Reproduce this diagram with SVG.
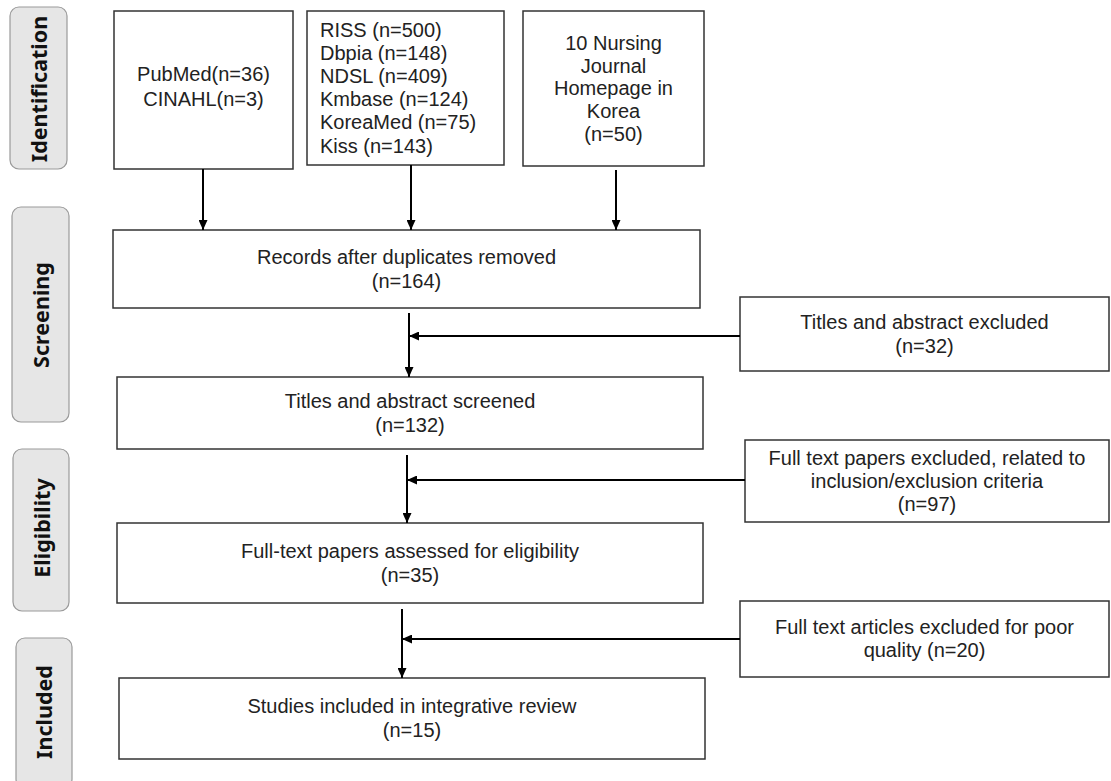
<svg xmlns="http://www.w3.org/2000/svg" width="1111" height="781" viewBox="0 0 1111 781">
<defs>
<marker id="ah" viewBox="0 0 10 9" refX="10" refY="4.5" markerWidth="10" markerHeight="9" markerUnits="userSpaceOnUse" orient="auto">
<path d="M0,0 L10,4.5 L0,9 z" fill="#000"/>
</marker>
<style>
.phase rect{fill:#e6e6e6;stroke:#9a9a9a;stroke-width:1.2}
.phase text{font-family:"Noto Sans","Open Sans","DejaVu Sans",sans-serif;font-weight:bold;font-size:21.5px;fill:#111;text-anchor:middle}
.box rect{fill:#fff;stroke:#333;stroke-width:1.5}
.box text{font-family:"Liberation Sans",Arial,sans-serif;font-size:20px;fill:#222;text-anchor:middle}
.box text.left{text-anchor:start}
.conn line{stroke:#000;stroke-width:2;marker-end:url(#ah)}
</style>
</defs>
<rect width="1111" height="781" fill="#fff"/>

<g id="phase-identification" class="phase">
<rect x="10" y="7" width="57" height="162" rx="9"/>
<text transform="translate(39,89) rotate(-90)" dy="0.36em">Identification</text>
</g>
<g id="phase-screening" class="phase">
<rect x="12" y="207" width="57" height="215" rx="9"/>
<text transform="translate(41,315) rotate(-90)" dy="0.36em">Screening</text>
</g>
<g id="phase-eligibility" class="phase">
<rect x="13" y="449" width="56" height="162" rx="9"/>
<text transform="translate(42,528) rotate(-90)" dy="0.36em">Eligibility</text>
</g>
<g id="phase-included" class="phase">
<rect x="16" y="638" width="56" height="150" rx="9"/>
<text transform="translate(44,712) rotate(-90)" dy="0.36em">Included</text>
</g>

<g id="box-pubmed" class="box">
<rect x="114" y="11" width="179" height="158"/>
<text x="203.5" y="81">PubMed(n=36)</text>
<text x="203.5" y="106">CINAHL(n=3)</text>
</g>
<g id="box-riss" class="box">
<rect x="307" y="11" width="197" height="154"/>
<text class="left" x="320" y="37">RISS (n=500)</text>
<text class="left" x="320" y="60">Dbpia (n=148)</text>
<text class="left" x="320" y="83">NDSL (n=409)</text>
<text class="left" x="320" y="106">Kmbase (n=124)</text>
<text class="left" x="320" y="129">KoreaMed (n=75)</text>
<text class="left" x="320" y="153">Kiss (n=143)</text>
</g>
<g id="box-nursing" class="box">
<rect x="523" y="11" width="181" height="155"/>
<text x="613.5" y="50">10 Nursing</text>
<text x="613.5" y="73">Journal</text>
<text x="613.5" y="95">Homepage in</text>
<text x="613.5" y="118">Korea</text>
<text x="613.5" y="141">(n=50)</text>
</g>
<g id="box-records" class="box">
<rect x="113" y="230" width="587" height="78"/>
<text x="406.5" y="264">Records after duplicates removed</text>
<text x="406.5" y="288">(n=164)</text>
</g>
<g id="box-titles-screened" class="box">
<rect x="117" y="377" width="586" height="72"/>
<text x="410" y="408">Titles and abstract screened</text>
<text x="410" y="432">(n=132)</text>
</g>
<g id="box-titles-excluded" class="box">
<rect x="740" y="297" width="369" height="74"/>
<text x="924.5" y="329">Titles and abstract excluded</text>
<text x="924.5" y="353">(n=32)</text>
</g>
<g id="box-fulltext-excluded" class="box">
<rect x="745" y="440" width="364" height="82"/>
<text x="927" y="465">Full text papers excluded, related to</text>
<text x="927" y="488">inclusion/exclusion criteria</text>
<text x="927" y="511">(n=97)</text>
</g>
<g id="box-fulltext-assessed" class="box">
<rect x="117" y="523" width="586" height="80"/>
<text x="410" y="558">Full-text papers assessed for eligibility</text>
<text x="410" y="582">(n=35)</text>
</g>
<g id="box-poor-quality" class="box">
<rect x="740" y="601" width="369" height="76"/>
<text x="924.5" y="634">Full text articles excluded for poor</text>
<text x="924.5" y="657">quality (n=20)</text>
</g>
<g id="box-included" class="box">
<rect x="119" y="678" width="586" height="81"/>
<text x="412" y="713">Studies included in integrative review</text>
<text x="412" y="737">(n=15)</text>
</g>

<g id="connectors" class="conn">
<line x1="203" y1="169" x2="203" y2="230"/>
<line x1="411" y1="165" x2="411" y2="230"/>
<line x1="616" y1="170" x2="616" y2="230"/>
<line x1="409" y1="313" x2="409" y2="377"/>
<line x1="740" y1="336" x2="409" y2="336"/>
<line x1="407" y1="455" x2="407" y2="523"/>
<line x1="745" y1="480" x2="407" y2="480"/>
<line x1="402" y1="609" x2="402" y2="678"/>
<line x1="740" y1="639" x2="402" y2="639"/>
</g>
</svg>
